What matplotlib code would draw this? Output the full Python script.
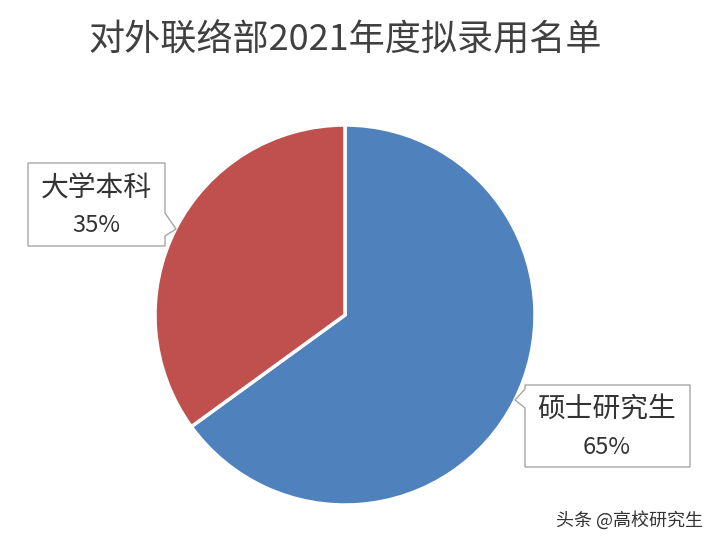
import matplotlib
matplotlib.use("Agg")
import matplotlib.pyplot as plt
from matplotlib.patches import Polygon

plt.rcParams['font.family'] = ['Noto Sans CJK SC', 'DejaVu Sans']

title = "对外联络部2021年度拟录用名单"
labels = ["硕士研究生", "大学本科"]
values = [65, 35]
colors = ["#4F81BD", "#C0504D"]
watermark = "头条 @高校研究生"

W, H = 718, 544
fig = plt.figure(figsize=(W / 100, H / 100), dpi=100)
fig.patch.set_facecolor("white")
ax = fig.add_axes([0, 0, 1, 1])
ax.set_xlim(0, W)
ax.set_ylim(0, H)
ax.set_aspect("equal")
ax.axis("off")

def py(y):
    # pixel row (from top) -> data y
    return H - y

cx, cy, r = 345, 315, 190
ax.pie(values, colors=colors, startangle=90, counterclock=False,
       center=(cx, py(cy)), radius=r,
       wedgeprops=dict(edgecolor="white", linewidth=2.5))
ax.set_xlim(0, W)
ax.set_ylim(0, H)

ax.text(W / 2 - 14, py(40), title, ha="center", va="center",
        fontsize=26, color="#404040", fontweight="light")

def callout(box, notch, side):
    x0, y0, x1, y1 = box
    a, tip, b = notch
    if side == "right":
        pts = [(x0, y0), (x1, y0), (x1, a[1]), tip, (x1, b[1]), (x1, y1), (x0, y1)]
    else:
        pts = [(x0, y0), (x1, y0), (x1, y1), (x0, y1), (x0, b[1]), tip, (x0, a[1])]
    pts = [(x, py(y)) for x, y in pts]
    ax.add_patch(Polygon(pts, closed=True, facecolor="white",
                         edgecolor="#A6A6A6", linewidth=1, zorder=5))

# 大学本科 callout (left)
callout((28, 163, 165, 246), ((165, 213), (176, 229), (165, 236)), "right")
ax.text(96, py(189), labels[1], ha="center", va="center", fontsize=20,
        color="#333333", fontweight="light", zorder=6)
ax.text(96, py(226), f"{values[1]}%", ha="center", va="center", fontsize=17,
        color="#333333", fontweight="light", zorder=6)

# 硕士研究生 callout (right)
callout((525, 385, 690, 467), ((525, 389), (515, 400), (525, 408)), "left")
ax.text(607, py(410), labels[0], ha="center", va="center", fontsize=20,
        color="#333333", fontweight="light", zorder=6)
ax.text(607, py(447), f"{values[0]}%", ha="center", va="center", fontsize=17,
        color="#333333", fontweight="light", zorder=6)

ax.text(703, py(520), watermark, ha="right", va="center", fontsize=13,
        color="#333333", zorder=6)

fig.savefig("out.png", dpi=100, facecolor="white")
